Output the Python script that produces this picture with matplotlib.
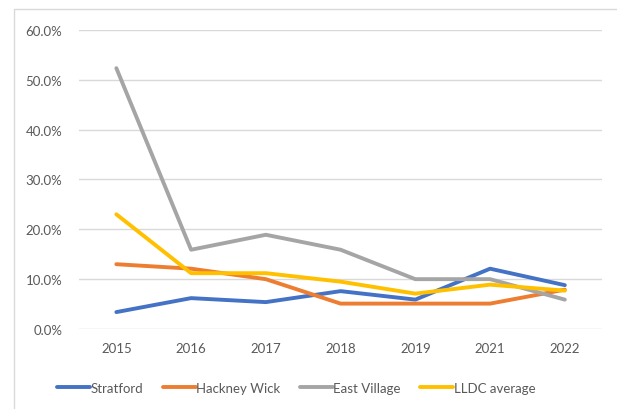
import matplotlib.pyplot as plt
from matplotlib.ticker import PercentFormatter
from matplotlib.patches import Rectangle

years = ['2015', '2016', '2017', '2018', '2019', '2021', '2022']
stratford = [3.4, 6.2, 5.4, 7.6, 5.9, 12.1, 8.8]
hackney_wick = [13.0, 12.1, 10.0, 5.1, 5.1, 5.1, 7.9]
east_village = [52.3, 15.9, 18.9, 15.9, 10.0, 10.0, 5.9]
lldc_average = [23.0, 11.2, 11.2, 9.5, 7.1, 8.9, 7.7]

series = [
    ('Stratford', stratford, '#4472C4'),
    ('Hackney Wick', hackney_wick, '#ED7D31'),
    ('East Village', east_village, '#A5A5A5'),
    ('LLDC average', lldc_average, '#FFC000'),
]

plt.rcParams['font.family'] = ['Lato', 'DejaVu Sans']

fig = plt.figure(figsize=(6.17, 4.10), dpi=100)
ax = fig.add_axes([0.128, 0.195, 0.848, 0.73])

x = range(len(years))
for name, vals, color in series:
    ax.plot(x, [v / 100 for v in vals], color=color, lw=2.8, label=name,
            solid_capstyle='round', solid_joinstyle='round')

ax.set_xlim(-0.5, len(years) - 0.5)
ax.set_ylim(0, 0.6)
ax.set_yticks([i / 10 for i in range(7)])
ax.yaxis.set_major_formatter(PercentFormatter(1.0, decimals=1))
ax.set_xticks(list(x))
ax.set_xticklabels(years)
ax.grid(axis='y', color='#D9D9D9', lw=1)
ax.set_axisbelow(True)
for s in ax.spines.values():
    s.set_visible(False)
ax.tick_params(length=0, labelsize=9.5, colors='#595959', pad=9)
ax.tick_params(axis='y', pad=12)

fig.legend(loc='center', bbox_to_anchor=(0.48, 0.052), ncol=4, frameon=False,
           fontsize=9.5, handlelength=2.5, handletextpad=0.05, columnspacing=1.45,
           labelcolor='#595959')

# light outer frame of the chart area
fig.patches.append(Rectangle((0.022, -0.05), 1.2, 1.025, transform=fig.transFigure,
                             fill=False, edgecolor='#D9D9D9', lw=1))

fig.savefig('out.png', dpi=100)
